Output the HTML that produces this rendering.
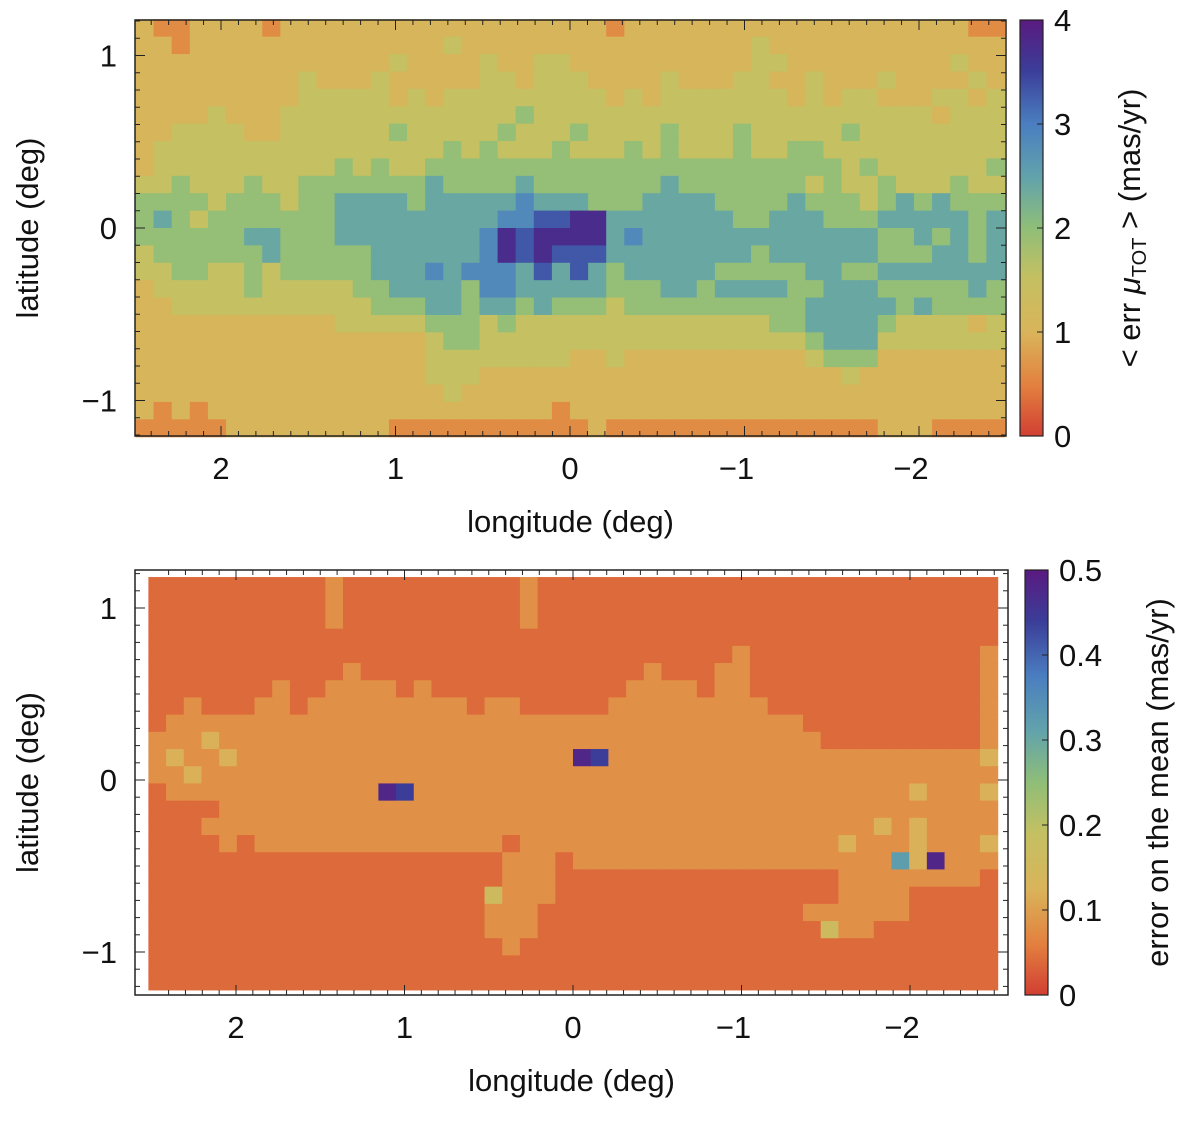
<!DOCTYPE html>
<html><head><meta charset="utf-8"><style>
body{margin:0;background:#fff}
svg text{font-family:"Liberation Sans","DejaVu Sans",sans-serif;fill:#111}
</style></head><body>
<svg id="s" width="1200" height="1119" xmlns="http://www.w3.org/2000/svg">
<defs><linearGradient id="cg" x1="0" y1="1" x2="0" y2="0">
<stop offset="0" stop-color="#d13f33"/><stop offset="0.12" stop-color="#e3803f"/><stop offset="0.25" stop-color="#d9b45a"/><stop offset="0.38" stop-color="#c4c062"/><stop offset="0.5" stop-color="#8fbe78"/><stop offset="0.62" stop-color="#62a3ab"/><stop offset="0.75" stop-color="#4a7ec0"/><stop offset="0.88" stop-color="#3b3d98"/><stop offset="1" stop-color="#5a1a80"/>
</linearGradient></defs>
<g id="top"></g>
<g id="bot"></g>
</svg>
<script>
const topRows=[
"322333323333333333333333332333333333333333333322",
"332333333333333334333333333333333343333333333333",
"333333333333334333343344333333333344333333333433",
"333333333433343333344344433334333443343334333343",
"333333333444443434444444443434444444343443334434",
"333343334444444444444544444444444444444444443444",
"334444334444445444445444544445444544444544444444",
"344444444444444445454445444545444544554444444444",
"344444444445454455555555555555555555555454444445",
"445444544555555565555655555556555555545445444544",
"555545554556666566666766655566665555655545656555",
"565455555556666666667788996666666556665556666656",
"555555665556666666679899996766666666666665565656",
"455555565555566666679898886666666656666665556656",
"445544545555566676777686865666665555566556666666",
"344444544444556666577666665556656666556665555565",
"334444444444455566566565554555555555566666565555",
"333333333334444455545444444444444445566665444434",
"333333333333333345544444444444444444456664444444",
"333333333333333344444444334333333333345553333333",
"333333333333333344433333333333333333333433333333",
"333333333333333334333333333333333333333333333333",
"323233333333333333333332333333333333333333333333",
"222223333333332222222222232222222222222223332222"];
const botRows=[
"111111111121111111111211111111111111111111111111",
"111111111121111111111211111111111111111111111111",
"111111111121111111111211111111111111111111111111",
"111111111111111111111111111111111111111111111111",
"111111111111111111111111111111111211111111111112",
"111111111112111111111111111121112211111111111112",
"111111121122221211111111111222212211111111111112",
"112111221222222222122111112222222221111111111112",
"122222222222222222222222222222222222211111111112",
"222322222222222222222222222222222222221111111112",
"232232222222222222222222cb2222222222222222222223",
"223222222222222222222222222222222222222222222222",
"1222222222222cb222222222222222222222222222232223",
"111122222222222222222222222222222222222222222222",
"111222222222222222222222222222222222222223232222",
"111121222222222222221222222222222222222322232223",
"11111111111111111111222122222222222222222283c222",
"111111111111111111112221111111111111111222222221",
"111111111111111111142221111111111111111222211111",
"111111111111111111122211111111111111122222211111",
"111111111111111111122211111111111111114221111111",
"111111111111111111112111111111111111111111111111",
"111111111111111111111111111111111111111111111111",
"111111111111111111111111111111111111111111111111"];
const topScale=0.45, topOffset=-0.3, botScale=0.04, botOffset=0;
const xTicks=[2,1,0,-1,-2], yTicks=[1,0,-1];
const topCbTicks=[0,1,2,3,4], botCbTicks=["0","0.1","0.2","0.3","0.4","0.5"];
const stops=[[0,[209,63,51]],[.12,[227,128,63]],[.25,[217,180,90]],[.38,[196,192,98]],[.5,[143,190,120]],[.62,[98,163,171]],[.75,[74,126,192]],[.88,[59,61,152]],[1,[90,26,128]]];
function cmap(t){t=Math.max(0,Math.min(1,t));for(let i=1;i<stops.length;i++){if(t<=stops[i][0]){const a=stops[i-1],b=stops[i],f=(t-a[0])/(b[0]-a[0]);return 'rgb('+a[1].map((v,k)=>Math.round(v+(b[1][k]-v)*f)).join(',')+')';}}return 'rgb(90,26,128)';}
const NS='http://www.w3.org/2000/svg';
function el(p,t,a,txt){const e=document.createElementNS(NS,t);for(const k in a)e.setAttribute(k,a[k]);if(txt!==undefined)e.textContent=txt;p.appendChild(e);return e;}
function panel(g,cfg){
 const sx=l=>cfg.x0+(cfg.l0-l)*cfg.pxl, sy=b=>cfg.y0+(cfg.b0-b)*cfg.pxb;
 const rows=cfg.rows,nr=rows.length,nc=rows[0].length;
 const dl=(cfg.lL-cfg.lR)/nc, db=(cfg.bT-cfg.bB)/nr;
 for(let r=0;r<nr;r++)for(let c=0;c<nc;c++){
  const v=parseInt(rows[r][c],36)*cfg.scale+cfg.offset;
  const x1=sx(cfg.lL-c*dl),x2=sx(cfg.lL-(c+1)*dl),y1=sy(cfg.bT-r*db),y2=sy(cfg.bT-(r+1)*db);
  const e=el(g,'rect',{x:x1.toFixed(2),y:y1.toFixed(2),width:(x2-x1+0.6).toFixed(2),height:(y2-y1+0.6).toFixed(2),fill:cmap(v/cfg.vmax)});
  
  
 }
 const f=el(g,'rect',{x:cfg.fx1,y:cfg.fy1,width:cfg.fx2-cfg.fx1,height:cfg.fy2-cfg.fy1,fill:'none',stroke:'#222','stroke-width':1.5});
 
 for(let l=-2.5;l<=2.5;l+=0.1){const x=sx(l);if(x<cfg.fx1||x>cfg.fx2)continue;const major=Math.abs(l-Math.round(l))<0.01;const len=major?10:5;
  el(g,'line',{x1:x,x2:x,y1:cfg.fy2,y2:cfg.fy2-len,stroke:'#222'});el(g,'line',{x1:x,x2:x,y1:cfg.fy1,y2:cfg.fy1+len,stroke:'#222'});}
 for(let b=-1.2;b<=1.21;b+=0.1){const y=sy(b);if(y<cfg.fy1||y>cfg.fy2)continue;const major=Math.abs(b-Math.round(b))<0.01;const len=major?10:5;
  el(g,'line',{x1:cfg.fx1,x2:cfg.fx1+len,y1:y,y2:y,stroke:'#222'});el(g,'line',{x1:cfg.fx2,x2:cfg.fx2-len,y1:y,y2:y,stroke:'#222'});}
 xTicks.forEach(t=>{const e=el(g,'text',{x:sx(t)-(t<0?8:0),y:cfg.fy2+43,'font-size':31,'text-anchor':'middle'},t<0?'\u2212'+(-t):String(t));});
 yTicks.forEach(t=>{const e=el(g,'text',{x:cfg.fx1-18,y:sy(t)+11,'font-size':31,'text-anchor':'end'},t<0?'\u2212'+(-t):String(t));});
 let e=el(g,'text',{x:(cfg.fx1+cfg.fx2)/2,y:cfg.fy2+96,'font-size':31,'text-anchor':'middle'},'longitude (deg)');
 e=el(g,'text',{x:0,y:0,'font-size':31,'text-anchor':'middle',transform:`translate(38,${(cfg.fy1+cfg.fy2)/2}) rotate(-90)`},'latitude (deg)');
 e=el(g,'rect',{x:cfg.cbx,y:cfg.fy1,width:23,height:cfg.fy2-cfg.fy1,fill:'url(#cg)',stroke:'#222','stroke-width':1.2});
 cfg.cbTicks.forEach((t,i)=>{const y=cfg.fy2-(parseFloat(t)/cfg.vmax)*(cfg.fy2-cfg.fy1);
  el(g,'line',{x1:cfg.cbx+23,x2:cfg.cbx+17,y1:y,y2:y,stroke:'#222'});
  const tt=el(g,'text',{x:cfg.cbx+34,y:y+11,'font-size':31},String(t));});
 e=el(g,'text',{x:0,y:0,'font-size':31,'text-anchor':'middle',transform:`translate(${cfg.cbLabelX},${(cfg.fy1+cfg.fy2)/2}) rotate(-90)`});
 e.innerHTML=cfg.cbLabel;
}
panel(document.getElementById('top'),{rows:topRows,scale:topScale,offset:topOffset,vmax:4,x0:570,l0:0,pxl:174.5,y0:228,b0:0,pxb:172.5,
 lL:2.49,lR:-2.49,bT:1.21,bB:-1.21,fx1:135,fx2:1006,fy1:20,fy2:436,cbx:1020,cbTicks:topCbTicks,cbLabelX:1140,
 cbLabel:'&lt; err <tspan font-style="italic">μ</tspan><tspan font-size="20" dy="6">TOT</tspan><tspan dy="-6"> &gt;  (mas/yr)</tspan>'});
panel(document.getElementById('bot'),{rows:botRows,scale:botScale,offset:botOffset,vmax:0.5,x0:573,l0:0,pxl:168.5,y0:780,b0:0,pxb:172,
 lL:2.52,lR:-2.52,bT:1.18,bB:-1.22,fx1:135,fx2:1008,fy1:570,fy2:995,cbx:1025,cbTicks:botCbTicks,cbLabelX:1168,
 cbLabel:'error on the mean (mas/yr)'});
</script>
</body></html>
